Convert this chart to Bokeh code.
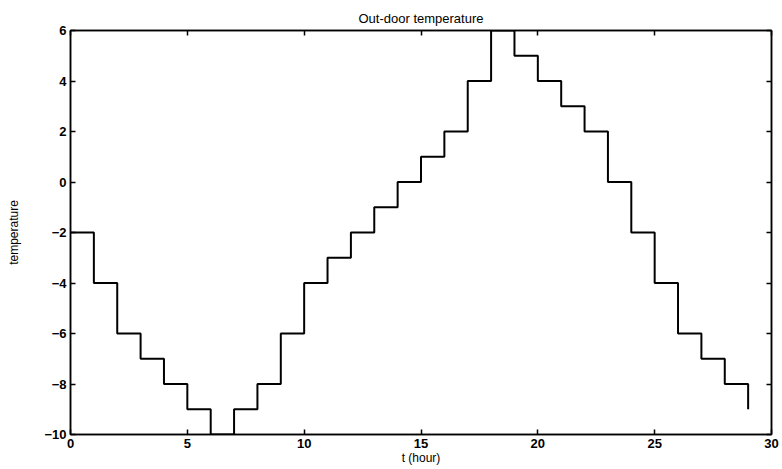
from bokeh.plotting import figure
from bokeh.models import LinearAxis, Range1d, FixedTicker, CustomJSTickFormatter
from bokeh.embed import file_html
from bokeh.resources import INLINE

hours = list(range(30))
temperature = [-2, -4, -6, -7, -8, -9, -10, -9, -8, -6,
               -4, -3, -2, -1, 0, 1, 2, 4, 6, 5,
               4, 3, 2, 0, -2, -4, -6, -7, -8, -9]
x_ticks = [0, 5, 10, 15, 20, 25, 30]
y_ticks = [-10, -8, -6, -4, -2, 0, 2, 4, 6]

FONT = "Liberation Sans"

p = figure(width=782, height=469, output_backend="svg", toolbar_location=None,
           x_range=Range1d(0, 30), y_range=Range1d(-10, 6),
           title="Out-door temperature",
           min_border_left=70, min_border_right=11, min_border_top=30, min_border_bottom=35)
p.title.align = "center"
p.title.text_font = FONT
p.title.text_font_size = "13px"
p.title.text_font_style = "normal"
p.title.text_color = "black"
p.title.offset = 0
p.title.standoff = 10
p.background_fill_color = "white"
p.border_fill_color = "white"
p.grid.visible = False
p.outline_line_color = "black"
p.outline_line_width = 1.5

p.step(hours, temperature, mode="after", line_color="black", line_width=2)

def style(ax, labels=True):
    ax.axis_line_color = "black"
    ax.axis_line_width = 1.5
    ax.major_tick_in = 5
    ax.major_tick_out = 0
    ax.minor_tick_line_color = None
    ax.major_tick_line_color = "black"
    ax.major_tick_line_width = 1.5
    ax.major_label_text_font = FONT
    ax.major_label_text_font_style = "bold"
    ax.major_label_text_font_size = "13px"
    ax.major_label_text_color = "black"
    ax.major_label_standoff = 4
    ax.axis_label_text_font = FONT
    ax.axis_label_text_font_size = "12px"
    ax.axis_label_text_font_style = "normal"
    ax.axis_label_text_color = "black"
    if not labels:
        ax.formatter = CustomJSTickFormatter(code="return '';")
        ax.major_label_standoff = 0

p.xaxis.ticker = FixedTicker(ticks=x_ticks)
p.yaxis.ticker = FixedTicker(ticks=y_ticks)
p.xaxis.axis_label = "t (hour)"
p.yaxis.axis_label = "temperature"
style(p.xaxis[0])
style(p.yaxis[0])
p.xaxis[0].axis_label_standoff = 0
p.yaxis[0].axis_label_standoff = 20

top = LinearAxis(ticker=FixedTicker(ticks=x_ticks))
style(top, labels=False)
p.add_layout(top, "above")
right = LinearAxis(ticker=FixedTicker(ticks=y_ticks))
style(right, labels=False)
p.add_layout(right, "right")

open("out.html", "w").write(file_html(p, INLINE))
